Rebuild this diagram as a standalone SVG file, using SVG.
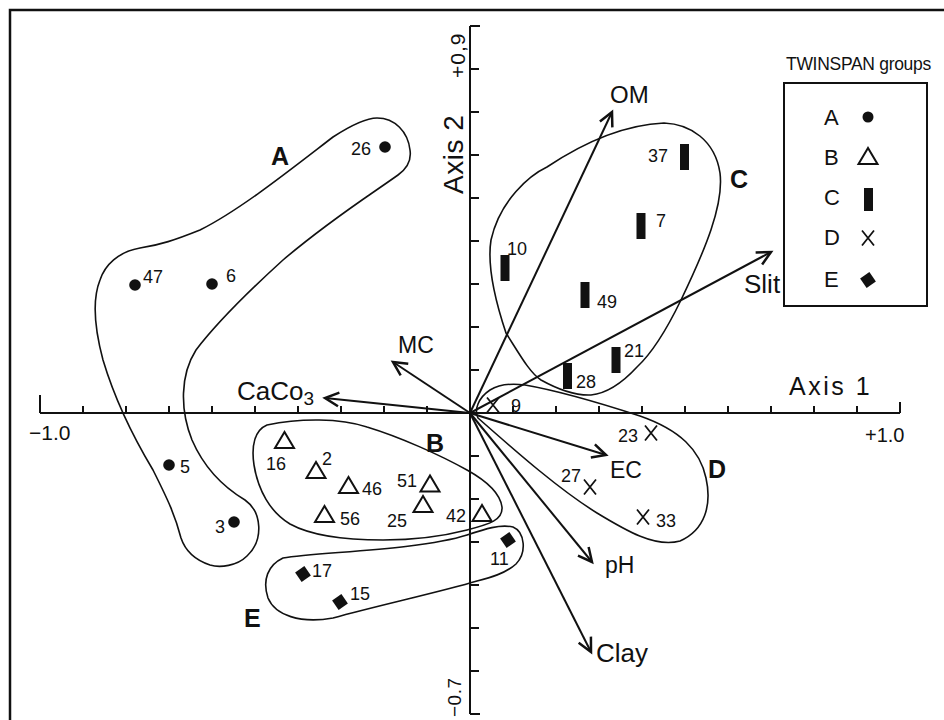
<svg xmlns="http://www.w3.org/2000/svg" width="944" height="720" viewBox="0 0 944 720">
<style>
text{font-family:"Liberation Sans","DejaVu Sans",sans-serif;fill:#111}
.ax{stroke:#111;stroke-width:2;fill:none}
.env{stroke:#111;stroke-width:1.6;fill:none}
.arr{stroke:#111;stroke-width:2;fill:none;marker-end:url(#ah)}
.num{font-size:18px}
.grp{font-size:25px;font-weight:bold}
.leg{font-size:22px}
.dot{fill:#111}
.tri{fill:none;stroke:#111;stroke-width:2;stroke-linejoin:miter}
.bar{fill:#111}
.x{stroke:#111;stroke-width:1.8;fill:none}
.dia{fill:#111}
</style>
<defs>
<marker id="ah" markerUnits="userSpaceOnUse" markerWidth="20" markerHeight="20" refX="0" refY="0" viewBox="-12 -8 14 16" orient="auto">
<path d="M-11,-5.5 L0,0 L-11,5.5" fill="none" stroke="#111" stroke-width="2"/>
</marker>
<polygon id="triS" class="tri" points="0,-8 -9.5,8 9.5,8"/>
<rect id="barS" class="bar" x="-4.5" y="-13" width="9" height="26"/>
<path id="xS" class="x" d="M-6,-7.5 L6,7.5 M6,-7.5 L-6,7.5"/>
<polygon id="diaS" class="dia" points="0,-8 8,0 0,8 -8,0" transform="rotate(10)"/>
</defs>
<rect width="944" height="720" fill="#fff"/>
<path id="frame" d="M10,720 L10,10 L944,10" fill="none" stroke="#111" stroke-width="2.5"/>

<g id="axes">
<path class="ax" d="M40,413 L900,413 M470,26 L470,714"/>
<path class="ax" d="M40,395 V413 M83,406 V413 M126,406 V413 M169,406 V413 M212,406 V413 M255,406 V413 M298,406 V413 M341,406 V413 M384,406 V413 M427,406 V413 M513,406 V413 M556,406 V413 M599,406 V413 M642,406 V413 M685,406 V413 M728,406 V413 M771,406 V413 M814,406 V413 M857,406 V413 M900,402 V413"/>
<path class="ax" d="M470,26 H480 M470,69 H479 M470,112 H479 M470,155 H479 M470,198 H479 M470,241 H479 M470,284 H479 M470,327 H479 M470,370 H479 M470,456 H479 M470,499 H479 M470,542 H479 M470,585 H479 M470,628 H479 M470,671 H479 M470,714 H480"/>
<text x="29" y="440" font-size="21">−1.0</text>
<text x="865" y="442" font-size="20">+1.0</text>
<text x="789" y="395" font-size="25" letter-spacing="2.5">Axis 1</text>
<text transform="translate(465,78) rotate(-90)" font-size="21" letter-spacing="1">+0,9</text>
<text transform="translate(463,194) rotate(-90)" font-size="28" letter-spacing="0.5">Axis 2</text>
<text transform="translate(461,717) rotate(-90)" font-size="19" letter-spacing="0.5">−0.7</text>
</g>

<g id="envelopes">
<path id="envA" class="env" d="M377,118 C395,118 408,132 410,150 C412,163 405,170 398,175 C370,195 330,220 283,260 C250,290 215,325 196,350 C180,375 180,410 192,440 C205,470 225,488 245,500 C262,512 264,540 247,556 C237,566 220,568 210,565 C195,560 185,550 181,538 C175,515 168,500 153,470 C135,440 115,400 103,360 C95,330 92,300 100,280 C105,265 118,252 140,248 C160,245 175,240 200,230 C240,210 290,170 333,137 C350,126 365,118 377,118 Z"/>
<path id="envB" class="env" d="M267,425 C300,418 340,418 367,427 C400,437 440,455 467,470 C485,480 500,492 502,507 C503,520 490,524 467,530 C440,537 410,540 383,540 C340,540 310,535 290,524 C270,512 258,490 254,465 C251,445 255,430 267,425 Z"/>
<path id="envC" class="env" d="M664,123 C690,124 715,140 720,173 C724,205 705,250 681,300 C665,333 650,355 637,367 C625,380 610,393 591,395 C570,396 550,385 541,380 C530,373 520,355 506,333 C495,300 487,265 491,240 C500,200 530,175 547,167 C580,145 620,125 664,123 Z"/>
<path id="envD" class="env" d="M478,418 C474,410 478,398 490,390 C498,385 510,383 525,385 C560,391 600,403 640,416 C680,430 700,450 706,478 C712,505 705,530 680,541 C655,548 625,530 597,513 C560,490 520,455 478,418 Z"/>
<path id="envE" class="env" d="M283,558 C320,552 420,550 467,535 C485,529 500,524 513,527 C525,532 527,553 516,564 C505,574 490,578 477,581 C440,592 380,605 333,618 C300,624 275,615 268,598 C262,580 268,565 283,558 Z"/>
</g>

<g id="connectors">
<line id="vOM" class="arr" x1="470" y1="413" x2="612" y2="112"/>
<line id="vSlit" class="arr" x1="470" y1="413" x2="771" y2="252"/>
<line id="vMC" class="arr" x1="470" y1="413" x2="393" y2="362"/>
<line id="vCaCO3" class="arr" x1="470" y1="413" x2="325" y2="398"/>
<line id="vEC" class="arr" x1="470" y1="413" x2="606" y2="455"/>
<line id="vpH" class="arr" x1="470" y1="413" x2="592" y2="562"/>
<line id="vClay" class="arr" x1="470" y1="413" x2="591" y2="652"/>
</g>

<g id="vector-labels">
<text x="610" y="103" font-size="24">OM</text>
<text x="744" y="293" font-size="26">Slit</text>
<text x="398" y="353" font-size="23">MC</text>
<text x="237" y="400" font-size="26">CaCo<tspan dy="5" font-size="19">3</tspan></text>
<text x="610" y="478" font-size="23">EC</text>
<text x="605" y="573" font-size="23">pH</text>
<text x="596" y="662" font-size="26">Clay</text>
</g>

<g id="group-labels">
<text id="gA" class="grp" x="271" y="165" font-size="29">A</text>
<text id="gB" class="grp" x="426" y="452">B</text>
<text id="gC" class="grp" x="730" y="188">C</text>
<text id="gD" class="grp" x="708" y="478">D</text>
<text id="gE" class="grp" x="244" y="627">E</text>
</g>

<g id="groupA">
<g id="s26"><circle class="dot" cx="385" cy="147" r="5.8"/><text class="num" x="351" y="155">26</text></g>
<g id="s47"><circle class="dot" cx="135" cy="285" r="5.8"/><text class="num" x="143" y="283">47</text></g>
<g id="s6"><circle class="dot" cx="212" cy="284" r="5.8"/><text class="num" x="226" y="282">6</text></g>
<g id="s5"><circle class="dot" cx="169" cy="465" r="5.8"/><text class="num" x="180" y="473">5</text></g>
<g id="s3"><circle class="dot" cx="234" cy="522" r="5.8"/><text class="num" x="215" y="533">3</text></g>
</g>

<g id="groupB">
<g id="s16"><use href="#triS" x="284.5" y="440"/><text class="num" x="266" y="470">16</text></g>
<g id="s2"><use href="#triS" x="316" y="470"/><text class="num" x="322" y="465">2</text></g>
<g id="s46"><use href="#triS" x="348.5" y="485"/><text class="num" x="362" y="495">46</text></g>
<g id="s51"><use href="#triS" x="430" y="483.5"/><text class="num" x="397" y="487">51</text></g>
<g id="s25"><use href="#triS" x="423" y="504"/><text class="num" x="387" y="527">25</text></g>
<g id="s56"><use href="#triS" x="324.5" y="514"/><text class="num" x="340" y="525">56</text></g>
<g id="s42"><use href="#triS" x="482" y="513"/><text class="num" x="446" y="522">42</text></g>
</g>

<g id="groupC">
<g id="s37"><use href="#barS" x="684.5" y="157"/><text class="num" x="648" y="162">37</text></g>
<g id="s7"><use href="#barS" x="641" y="226"/><text class="num" x="656" y="227">7</text></g>
<g id="s10"><use href="#barS" x="505" y="268"/><text class="num" x="507" y="255">10</text></g>
<g id="s49"><use href="#barS" x="585" y="295"/><text class="num" x="597" y="308">49</text></g>
<g id="s21"><use href="#barS" x="616" y="360"/><text class="num" x="624" y="357">21</text></g>
<g id="s28"><use href="#barS" x="567.5" y="376"/><text class="num" x="576" y="388">28</text></g>
</g>

<g id="groupD">
<g id="s9"><use href="#xS" x="493" y="405"/><text class="num" x="511" y="412">9</text></g>
<g id="s23"><use href="#xS" x="651" y="433"/><text class="num" x="618" y="442">23</text></g>
<g id="s27"><use href="#xS" x="590" y="487"/><text class="num" x="561" y="482" font-size="16">27</text></g>
<g id="s33"><use href="#xS" x="643" y="517"/><text class="num" x="656" y="527">33</text></g>
</g>

<g id="groupE">
<g id="s17"><use href="#diaS" x="303" y="574"/><text class="num" x="312" y="577">17</text></g>
<g id="s15"><use href="#diaS" x="340" y="602"/><text class="num" x="350" y="600">15</text></g>
<g id="s11"><use href="#diaS" x="508" y="540"/><text class="num" x="490" y="565">11</text></g>
</g>

<g id="legend">
<text x="786" y="70" font-size="17.5" letter-spacing="-0.3">TWINSPAN groups</text>
<rect x="784" y="83" width="143" height="223" fill="none" stroke="#111" stroke-width="2"/>
<g id="legA"><text class="leg" x="824" y="125">A</text><circle class="dot" cx="868" cy="117" r="5.5"/></g>
<g id="legB"><text class="leg" x="824" y="165">B</text><use href="#triS" x="868" y="156"/></g>
<g id="legC"><text class="leg" x="824" y="205">C</text><rect class="bar" x="864" y="188" width="9" height="23"/></g>
<g id="legD"><text class="leg" x="824" y="245">D</text><use href="#xS" x="868" y="238"/></g>
<g id="legE"><text class="leg" x="824" y="287">E</text><use href="#diaS" x="868" y="280"/></g>
</g>
</svg>
